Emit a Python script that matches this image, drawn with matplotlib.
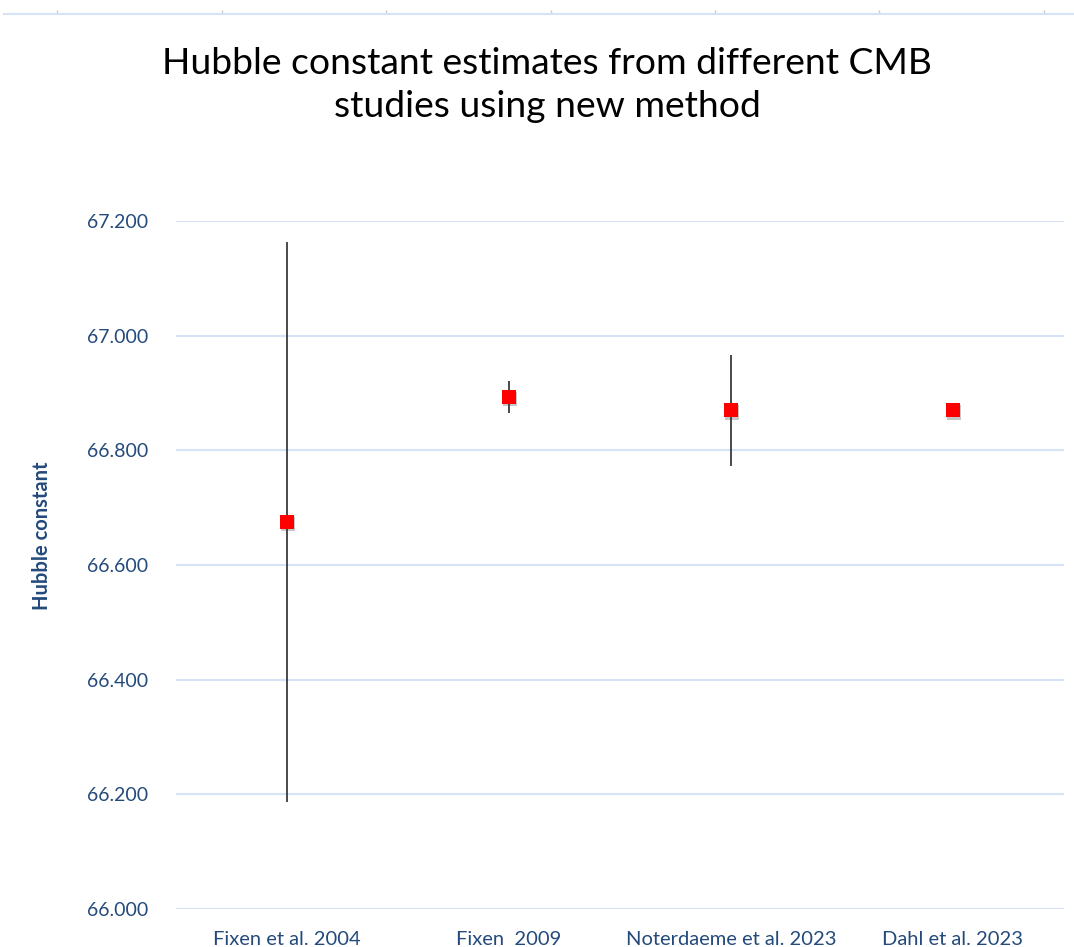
import matplotlib
matplotlib.use("Agg")
import matplotlib.pyplot as plt
import matplotlib.patheffects as pe

studies = ["Fixen et al. 2004", "Fixen  2009", "Noterdaeme et al. 2023", "Dahl et al. 2023"]
h0 = [66.675, 66.893, 66.870, 66.870]
err = [0.488, 0.028, 0.097, 0.0]
yticks = [66.0, 66.2, 66.4, 66.6, 66.8, 67.0, 67.2]

txt_color = "#244a7c"
grid_color = "#d6e2f5"

plt.rcParams['font.family'] = ['Lato', 'DejaVu Sans']

fig = plt.figure(figsize=(10.74, 9.47), dpi=100)

# remnant strip at top
axt = fig.add_axes([4/1074, 1 - 14/947, 1 - 4/1074, 3/947])
axt.set_xlim(0, 1070)
axt.set_ylim(0, 1)
for s in ["top", "left", "right"]:
    axt.spines[s].set_visible(False)
axt.spines["bottom"].set_color(grid_color)
axt.spines["bottom"].set_linewidth(1.5)
axt.set_xticks([53, 218, 382, 547, 711, 875, 1040])
axt.set_xticklabels([])
axt.set_yticks([])
axt.tick_params(axis="x", direction="in", length=3, color="#c8c8c8", width=1)
axt.patch.set_alpha(0)

ax = fig.add_axes([176/1074, 1 - 909/947, (1064 - 176)/1074, (909 - 221)/947])
x = list(range(len(studies)))
for xi, yi, ei in zip(x, h0, err):
    if ei > 0:
        ax.errorbar([xi], [yi], yerr=[ei], fmt="none", ecolor="#2b2b2b",
                    elinewidth=1.2, capsize=0, zorder=3)
ax.plot(x, h0, linestyle="none", marker="s", markersize=10.5, color="#ff0000",
        markeredgewidth=0, zorder=4,
        path_effects=[pe.SimplePatchShadow(offset=(0.8, -1.5), shadow_rgbFace="#444444", alpha=0.3), pe.Normal()])

ax.set_xlim(-0.5, 3.5)
ax.set_ylim(66.0, 67.2)
ax.set_yticks(yticks)
ax.set_yticklabels([f"{v:.3f}" for v in yticks])
ax.set_xticks(x)
ax.set_xticklabels(studies)
ax.yaxis.grid(True, color=grid_color, linewidth=1.5)
ax.set_axisbelow(True)
for s in ax.spines.values():
    s.set_visible(False)
ax.tick_params(axis="both", length=0, labelcolor=txt_color)
ax.tick_params(axis="y", pad=20, labelsize=14)
ax.tick_params(axis="x", pad=16, labelsize=14.5)
ax.set_ylabel("Hubble constant", fontsize=14.5, fontweight="bold", color=txt_color)
ax.yaxis.set_label_coords((52 - 176) / 888, (909 - 536) / 688)

fig.text(547/1074, 1 - 85/947, "Hubble constant estimates from different CMB\nstudies using new method",
         ha="center", va="center", fontsize=26.8, color="black", linespacing=1.38)

fig.savefig("out.png", dpi=100, facecolor="white")
